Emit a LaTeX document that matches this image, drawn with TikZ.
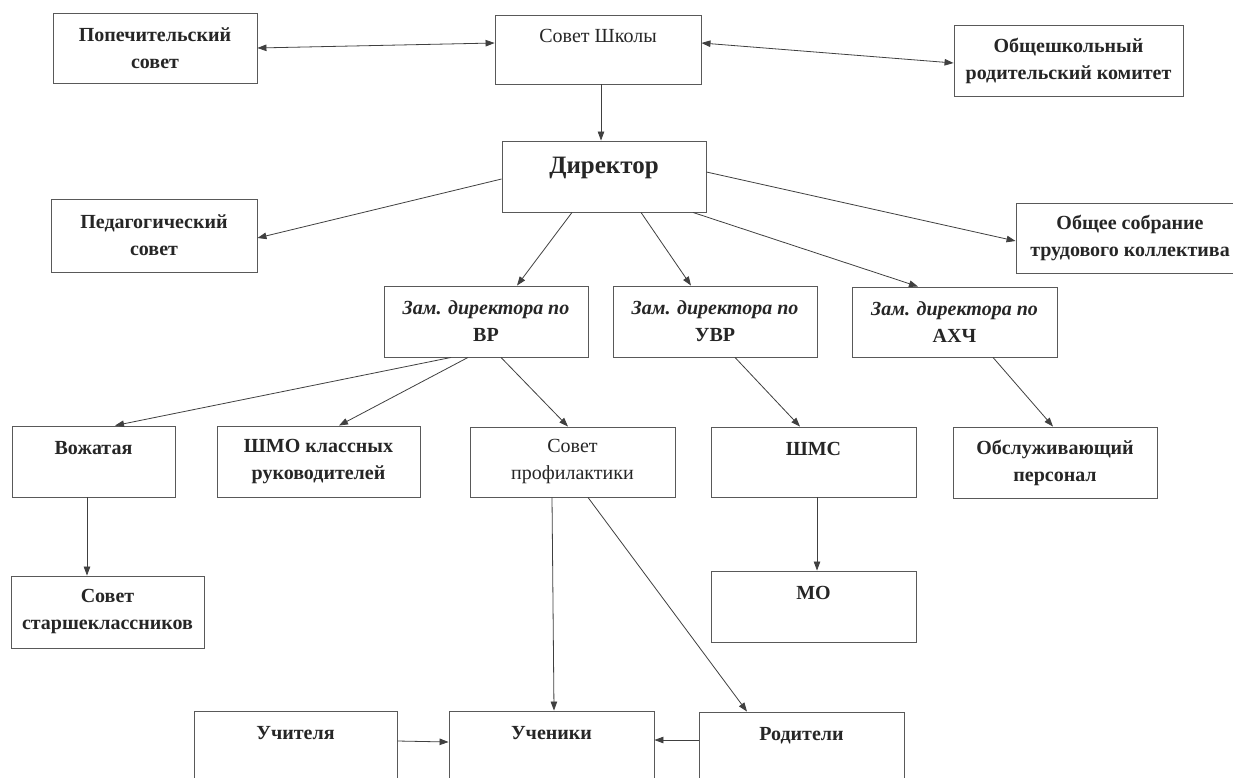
\documentclass[tikz,border=0pt]{standalone}
\usepackage{fontspec}
\setmainfont{Liberation Serif}
\usetikzlibrary{arrows.meta}
\begin{document}
\begin{tikzpicture}[x=1pt,y=-1pt,
  box/.style={draw=black!65, line width=0.9pt, rectangle, inner sep=0pt, align=center,
    text=black!85, font=\fontsize{20}{27}\selectfont\bfseries},
  regbox/.style={box, font=\fontsize{20}{27}\selectfont},
  bigbox/.style={box, font=\fontsize{25}{30}\selectfont\bfseries, text height=16.5pt, text depth=21.5pt},
  conn/.style={draw=black!75, line width=0.8pt, -{Triangle[length=9pt,width=6.5pt]}},
  twoway/.style={draw=black!75, line width=0.8pt, {Triangle[length=9pt,width=6.5pt]}-{Triangle[length=9pt,width=6.5pt]}},
]
\useasboundingbox (0,0) rectangle (1233,778);
\fill[white] (0,0) rectangle (1233,778);
\clip (0,0) rectangle (1233,778);

% row 1
\node[box, minimum width=204pt, minimum height=70pt] (pop) at (155,48) {Попечительский\\совет};
\node[regbox, minimum width=206pt, minimum height=69pt] (sov) at (598,49.5) {Совет Школы\\\mbox{}};
\node[box, minimum width=229pt, minimum height=71pt] (obr) at (1068.5,60.5) {Общешкольный\\родительский комитет};

% row 2
\node[bigbox, minimum width=204pt, minimum height=71pt] (dir) at (604,176.5) {Директор};
\node[box, minimum width=206pt, minimum height=73pt] (ped) at (154,235.5) {Педагогический\\совет};
\node[box, minimum width=228pt, minimum height=70pt] (obs) at (1130,238) {Общее собрание\\трудового коллектива};

% row 3
\node[box, minimum width=204pt, minimum height=71pt] (vr) at (486,321.5) {{\itshape Зам. директора по}\\ВР};
\node[box, minimum width=204pt, minimum height=71pt] (uvr) at (715,321.5) {{\itshape Зам. директора по}\\УВР};
\node[box, minimum width=205pt, minimum height=70pt] (ahc) at (954.5,322) {{\itshape Зам. директора по}\\АХЧ};

% row 4
\node[box, minimum width=163pt, minimum height=71pt] (voz) at (93.5,461.5) {Вожатая\\\mbox{}};
\node[box, minimum width=203pt, minimum height=71pt] (shmo) at (318.5,461.5) {ШМО классных\\руководителей};
\node[regbox, minimum width=205pt, minimum height=70pt] (prof) at (572.5,462) {Совет\\профилактики};
\node[box, minimum width=205pt, minimum height=70pt] (shms) at (813.5,462) {ШМС\\\mbox{}};
\node[box, minimum width=204pt, minimum height=71pt] (obsl) at (1055,462.5) {Обслуживающий\\персонал};

% row 5
\node[box, minimum width=193pt, minimum height=72pt] (sst) at (107.5,612) {Совет\\старшеклассников};
\node[box, minimum width=205pt, minimum height=71pt] (mo) at (813.5,606.5) {МО\\\mbox{}};

% row 6
\node[box, minimum width=203pt, minimum height=70pt] (uchit) at (295.5,746) {Учителя\\\mbox{}};
\node[box, minimum width=205pt, minimum height=70pt] (uchen) at (551.5,746) {Ученики\\\mbox{}};
\node[box, minimum width=205pt, minimum height=70pt] (rod) at (801.5,747) {Родители\\\mbox{}};

% connectors
\draw[twoway] (pop.east) -- ([yshift=6.5pt]sov.west);
\draw[twoway] ([yshift=6.5pt]sov.east) -- ([yshift=-2.5pt]obr.west);
\draw[conn] ([xshift=3pt]sov.south) -- ([xshift=3pt]sov.south |- dir.north);
\draw[conn] ([yshift=-2.5pt]dir.west) -- ([yshift=-2.5pt]ped.east);
\draw[conn] ([yshift=4.5pt]dir.east) -- ([yshift=-3pt]obs.west);
\draw[conn] ([xshift=-32pt]dir.south) -- ([xshift=31pt]vr.north);
\draw[conn] ([xshift=37pt]dir.south) -- ([xshift=-24pt]uvr.north);
\draw[conn] ([xshift=89pt]dir.south) -- ([xshift=-36.5pt]ahc.north);
\draw[conn] ([xshift=-35pt]vr.south) -- ([xshift=21.5pt]voz.north);
\draw[conn] ([xshift=-18pt]vr.south) -- ([xshift=20.5pt]shmo.north);
\draw[conn] ([xshift=15pt]vr.south) -- ([xshift=-4.5pt]prof.north);
\draw[conn] ([xshift=20pt]uvr.south) -- ([xshift=-13.5pt]shms.north);
\draw[conn] ([xshift=38.5pt]ahc.south) -- ([xshift=-2pt]obsl.north);
\draw[conn] ([xshift=-6.5pt]voz.south) -- ([xshift=-20.5pt]sst.north);
\draw[conn] ([xshift=3.5pt]shms.south) -- ([xshift=3.5pt]mo.north);
\draw[conn] ([xshift=-20.5pt]prof.south) -- ([xshift=2.5pt]uchen.north);
\draw[conn] ([xshift=15.5pt]prof.south) -- ([xshift=-54.5pt]rod.north);
\draw[conn] ([yshift=5pt]uchit.east) -- ([yshift=4pt]uchen.west);
\draw[conn] ([yshift=7pt]rod.west) -- ([yshift=6pt]uchen.east);
\end{tikzpicture}
\end{document}
